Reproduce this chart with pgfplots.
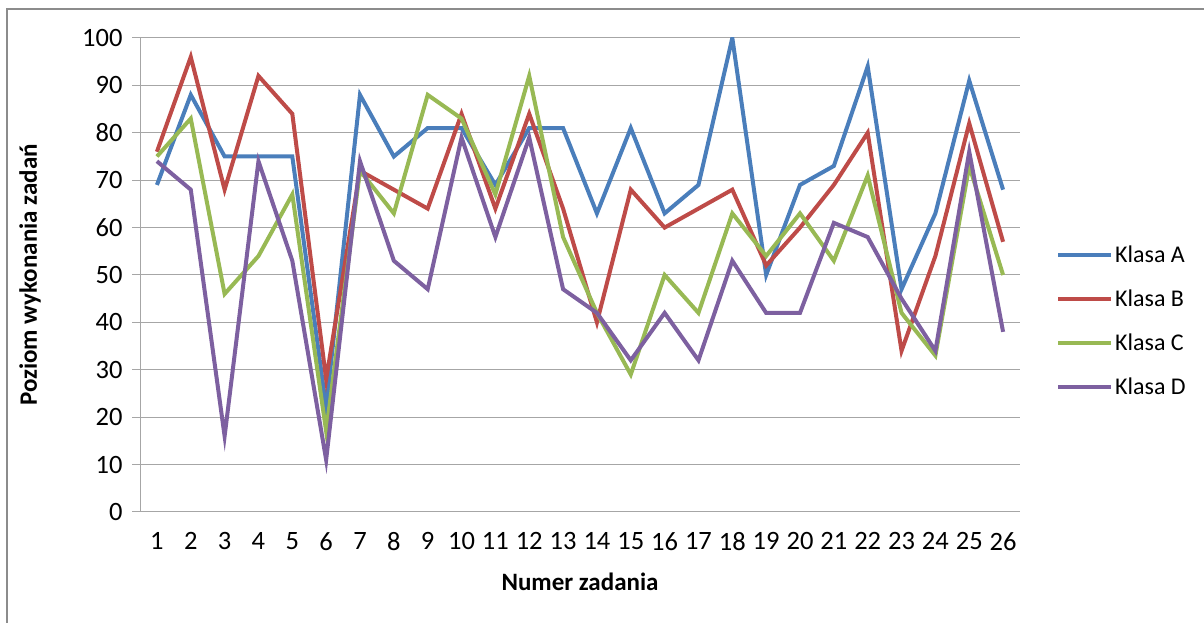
\documentclass[border=0pt]{standalone}
\usepackage{pgfplots}
\pgfplotsset{compat=1.18}
\usepackage{fontspec}
\setmainfont{Carlito}
\definecolor{cA}{HTML}{4A7EBB}
\definecolor{cB}{HTML}{BE4B48}
\definecolor{cC}{HTML}{98B954}
\definecolor{cD}{HTML}{7D60A0}
\definecolor{gridc}{HTML}{A6A6A6}
\definecolor{framec}{HTML}{8C8C8C}
\begin{document}
\begin{tikzpicture}[x=1bp,y=1bp]
\useasboundingbox (0,0) rectangle (1204,623);
\draw[framec, line width=2bp] (7,0) -- (7,614) -- (1204,614);
\begin{axis}[
  at={(140bp,111bp)}, anchor=south west,
  scale only axis, width=880bp, height=474bp,
  xmin=0.5, xmax=26.5, ymin=0, ymax=100,
  xtick={1,...,26}, ytick={0,10,...,100},
  axis x line*=bottom, axis y line*=left,
  axis line style={gridc, line width=1bp},
  ymajorgrids, major grid style={gridc, line width=1bp},
  x tick style={draw=none},
  y tick style={gridc, line width=1bp},
  major tick length=8bp, tick align=outside,
  font=\fontsize{25bp}{30bp}\selectfont,
  /pgf/number format/assume math mode=true,
  ticklabel style={font=\fontsize{26.5bp}{30bp}\selectfont},
  yticklabel style={anchor=east, xshift=-6bp},
  xticklabel style={anchor=north, yshift=-9bp},
  xlabel={\bfseries Numer zadania},
  ylabel={\bfseries Poziom wykonania zadań},
  xlabel style={at={(axis description cs:0.5,-0.148)}, anchor=center},
  ylabel style={at={(axis description cs:-0.125,0.5)}, anchor=center},
  legend style={draw=none, fill=none, at={(axis description cs:1.0,0.403)}, anchor=west, xshift=36bp,
    font=\fontsize{24bp}{28bp}\selectfont, row sep=22bp, inner sep=0pt,
    /tikz/every even column/.append style={column sep=0bp}},
  legend cell align=left,
  legend image code/.code={\draw[#1, line width=4bp] (0bp,0bp) -- (53bp,0bp);},
  every axis plot/.append style={line width=4bp, line join=miter, mark=none},
]
\addplot[cA] coordinates {(1,69)(2,88)(3,75)(4,75)(5,75)(6,22)(7,88)(8,75)(9,81)(10,81)(11,69)(12,81)(13,81)(14,63)(15,81)(16,63)(17,69)(18,100)(19,50)(20,69)(21,73)(22,94)(23,47)(24,63)(25,91)(26,68)};
\addlegendentry{Klasa A}
\addplot[cB] coordinates {(1,76)(2,96)(3,68)(4,92)(5,84)(6,28)(7,72)(8,68)(9,64)(10,84)(11,64)(12,84)(13,64)(14,40)(15,68)(16,60)(17,64)(18,68)(19,52)(20,60)(21,69)(22,80)(23,34)(24,54)(25,82)(26,57)};
\addlegendentry{Klasa B}
\addplot[cC] coordinates {(1,75)(2,83)(3,46)(4,54)(5,67)(6,17)(7,72)(8,63)(9,88)(10,83)(11,67)(12,92)(13,58)(14,42)(15,29)(16,50)(17,42)(18,63)(19,54)(20,63)(21,53)(22,71)(23,42)(24,33)(25,73)(26,50)};
\addlegendentry{Klasa C}
\addplot[cD] coordinates {(1,74)(2,68)(3,16)(4,74)(5,53)(6,11)(7,74)(8,53)(9,47)(10,79)(11,58)(12,79)(13,47)(14,42)(15,32)(16,42)(17,32)(18,53)(19,42)(20,42)(21,61)(22,58)(23,45)(24,34)(25,76)(26,38)};
\addlegendentry{Klasa D}
\end{axis}
\end{tikzpicture}
\end{document}
